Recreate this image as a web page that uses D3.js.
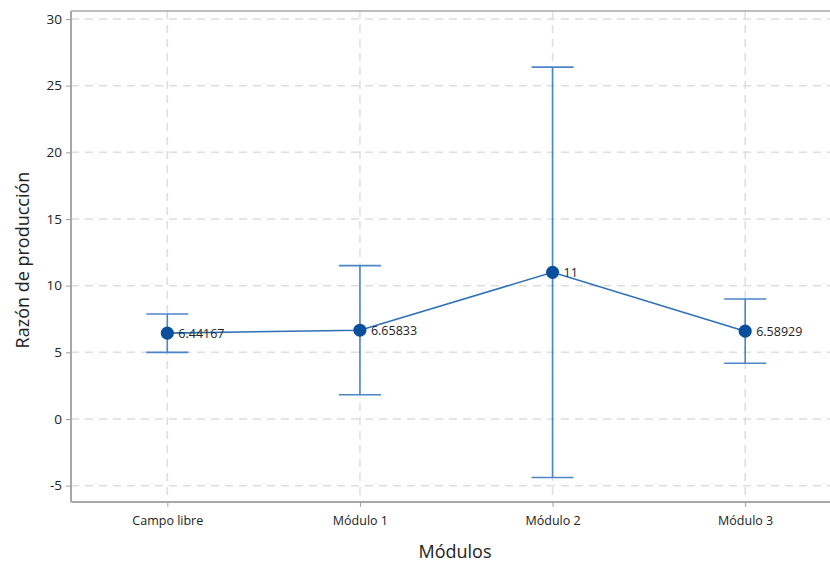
<!DOCTYPE html>
<html><head><meta charset="utf-8">
<script src="https://cdn.jsdelivr.net/npm/d3@7"></script>
<style>body{margin:0;background:#fff}svg{display:block}text{font-family:"Open Sans","Noto Sans",sans-serif}</style>
</head><body><svg id="c" width="830" height="562"></svg>
<script>
const categories = ["Campo libre", "Módulo 1", "Módulo 2", "Módulo 3"];
const means = [6.44167, 6.65833, 11, 6.58929];
const lower = [5.0, 1.82, -4.39, 4.18];
const upper = [7.88, 11.5, 26.39, 9.0];
const meanLabels = ["6.44167", "6.65833", "11", "6.58929"];
const yTicks = [-5, 0, 5, 10, 15, 20, 25, 30];

const svg = d3.select("#c");
const L = 71, R = 841.5, T = 11, B = 502;
const x = d3.scalePoint().domain(categories).range([L, R]).padding(0.5);
const y = d3.scaleLinear().domain([0, 30]).range([419, 19]);

const grid = svg.append("g");
grid.selectAll(".hg").data(yTicks).join("line")
  .attr("x1", L).attr("x2", 830).attr("y1", d => y(d)).attr("y2", d => y(d))
  .attr("stroke", "#dedede").attr("stroke-width", 1.5).attr("stroke-dasharray", "8,6");
grid.selectAll(".vg").data(categories).join("line")
  .attr("x1", d => x(d)).attr("x2", d => x(d)).attr("y1", T).attr("y2", B)
  .attr("stroke", "#dedede").attr("stroke-width", 1.5).attr("stroke-dasharray", "8,6");

// frame
svg.append("line").attr("x1", L).attr("x2", 830).attr("y1", T).attr("y2", T).attr("stroke", "#a8a8a8").attr("stroke-width", 1.5);
svg.append("line").attr("x1", L).attr("x2", L).attr("y1", T).attr("y2", B).attr("stroke", "#a8a8a8").attr("stroke-width", 2);
svg.append("line").attr("x1", L).attr("x2", 830).attr("y1", B).attr("y2", B).attr("stroke", "#a8a8a8").attr("stroke-width", 2);

// y axis
const yAxis = svg.append("g").attr("transform", `translate(${L},0)`)
  .call(d3.axisLeft(y).tickValues(yTicks).tickSize(5).tickPadding(4).tickFormat(d => String(d)));
yAxis.select(".domain").remove();
yAxis.selectAll("line").attr("stroke", "#a0a0a0");
yAxis.selectAll("text").attr("font-size", 13.5).attr("fill", "#222");

// x axis
const xAxis = svg.append("g").attr("transform", `translate(0,${B})`)
  .call(d3.axisBottom(x).tickSize(5).tickPadding(9));
xAxis.select(".domain").remove();
xAxis.selectAll("line").attr("stroke", "#a0a0a0");
xAxis.selectAll("text").attr("font-size", 12.5).attr("fill", "#222");

// error bars
const eb = svg.append("g").attr("stroke", "#4a86c8").attr("stroke-width", 1.6);
categories.forEach((c, i) => {
  eb.append("line").attr("x1", x(c)).attr("x2", x(c)).attr("y1", y(upper[i])).attr("y2", y(lower[i]));
  eb.append("line").attr("x1", x(c) - 21).attr("x2", x(c) + 21).attr("y1", y(upper[i])).attr("y2", y(upper[i]));
  eb.append("line").attr("x1", x(c) - 21).attr("x2", x(c) + 21).attr("y1", y(lower[i])).attr("y2", y(lower[i]));
});

// mean line
svg.append("path").datum(means)
  .attr("d", d3.line().x((d, i) => x(categories[i])).y(d => y(d)))
  .attr("fill", "none").attr("stroke", "#2f6fb8").attr("stroke-width", 1.6);

// markers
svg.selectAll(".m").data(means).join("path")
  .attr("transform", (d, i) => `translate(${x(categories[i])},${y(d)})`)
  .attr("d", d3.symbol().type(d3.symbolCircle).size(135))
  .attr("fill", "#0a4f9e");

// labels
svg.selectAll(".lbl").data(means).join("text")
  .attr("x", (d, i) => x(categories[i]) + 11).attr("y", d => y(d) + 4.5)
  .attr("font-size", 12.5).attr("fill", "#222")
  .text((d, i) => meanLabels[i]);

// titles
svg.append("text").attr("x", 455).attr("y", 558).attr("text-anchor", "middle")
  .attr("font-size", 18).attr("fill", "#222").text("Módulos");
svg.append("text").attr("transform", "translate(29,260) rotate(-90)").attr("text-anchor", "middle")
  .attr("font-size", 18).attr("fill", "#222").text("Razón de producción");
</script></body></html>
